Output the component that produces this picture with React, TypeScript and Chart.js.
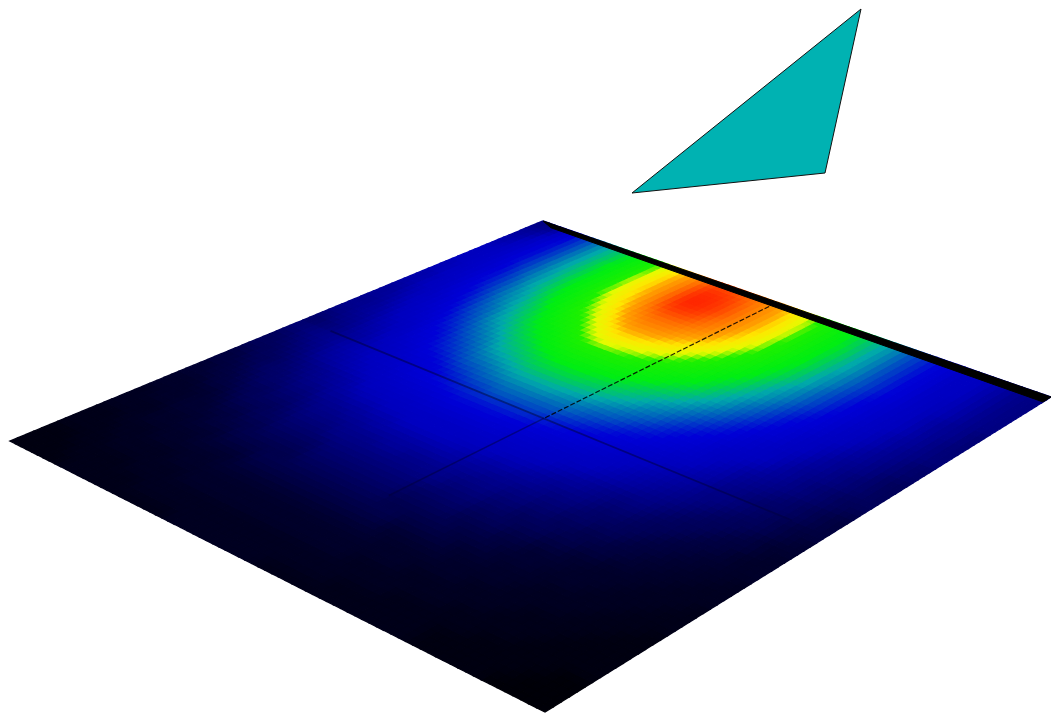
import React, { useEffect, useRef } from "react";
import { Chart, registerables } from "chart.js";

Chart.register(...registerables);

// Corners of the plate in chart units: top, right, bottom, left
const plateX = [543, 1051, 545, 10];
const plateY = [221, 397, 712, 441];
const triangleX = [861, 825, 632, 861];
const triangleY = [9, 173, 193, 9];

// Colour scale of the plate
const scaleStops = [0, 6, 12, 18, 26, 43, 53, 65, 69, 74, 78, 88, 97];
const scaleColors = [
  [0, 0, 0],
  [0, 0, 50],
  [0, 0, 130],
  [0, 0, 190],
  [0, 0, 215],
  [0, 170, 170],
  [0, 238, 20],
  [30, 240, 0],
  [230, 250, 0],
  [255, 230, 0],
  [255, 165, 0],
  [255, 110, 0],
  [255, 40, 0],
];

// Plate values, row by row from the thick edge to the far edge
const heat: number[][] = [
  [12,14,20,28,33,39,44,48,53,58,65,70,75,80,88,93,93,91,88,84,79,75,70,66,61,56,52,48,44,40,35,31,27,24,20,19,17,15,13,12],
  [14,16,22,28,33,39,44,48,53,59,65,71,76,82,90,96,96,94,90,85,81,76,71,67,62,57,52,48,44,40,35,31,27,24,20,19,17,15,13,12],
  [15,18,24,28,33,39,44,49,54,59,66,72,76,82,91,97,97,95,91,86,81,76,72,67,62,57,53,49,44,40,35,31,27,24,20,19,17,15,13,12],
  [16,19,24,28,33,39,44,49,53,59,66,72,76,82,91,97,97,95,91,86,81,76,72,67,62,57,52,49,44,40,35,31,27,24,20,19,17,15,13,12],
  [17,20,24,28,33,39,44,48,53,59,65,71,75,81,90,95,95,93,89,85,80,75,71,66,62,57,52,48,44,40,35,31,27,24,20,18,17,15,13,12],
  [18,20,24,28,33,38,43,48,53,58,65,70,74,79,87,91,91,90,87,83,78,74,70,66,61,56,52,48,43,39,35,31,27,24,20,18,17,15,13,12],
  [18,20,23,27,32,38,42,47,52,57,63,68,72,77,83,87,87,86,83,80,76,72,68,64,60,55,51,47,42,39,34,30,26,23,20,18,16,14,13,11],
  [18,20,22,26,31,36,42,46,51,55,61,66,70,74,79,83,83,82,79,76,73,70,66,62,58,53,50,46,42,37,33,29,25,22,20,18,16,14,13,11],
  [17,19,22,26,30,35,40,44,49,54,59,64,67,71,75,78,78,77,75,73,70,67,64,60,56,52,48,44,40,36,32,28,25,22,19,18,16,14,12,11],
  [17,19,21,25,29,34,39,42,47,51,56,61,64,68,71,74,74,73,71,70,67,64,61,57,53,50,46,42,39,35,31,27,24,21,19,17,15,14,12,11],
  [16,18,20,24,27,32,37,41,45,49,53,58,61,65,68,70,70,69,68,66,64,61,58,54,51,48,44,41,37,33,29,26,23,20,18,17,15,13,12,11],
  [16,18,19,23,26,30,35,38,43,47,51,54,57,61,64,66,66,65,64,62,60,57,54,52,49,45,42,38,35,31,27,25,22,19,18,16,14,13,11,10],
  [15,17,18,21,24,28,33,36,41,44,48,51,54,57,60,61,61,61,60,58,56,54,51,49,46,43,40,36,33,29,26,23,20,18,17,15,14,12,11,10],
  [14,16,18,20,23,26,30,34,38,41,45,48,50,53,55,57,57,56,55,54,52,50,48,46,43,40,37,34,30,27,24,22,19,18,16,14,13,12,10,9],
  [14,15,17,19,21,24,28,31,35,38,41,45,47,49,51,52,52,52,51,50,49,47,45,42,40,37,34,31,28,25,22,20,18,17,15,14,12,11,10,9],
  [13,14,16,18,20,22,26,28,32,35,38,42,44,46,48,49,49,49,48,47,46,44,42,39,37,34,31,28,26,23,21,19,18,16,14,13,12,11,10,9],
  [13,14,15,17,18,20,24,26,29,32,35,38,40,42,44,45,45,45,44,43,42,40,38,36,34,31,28,26,24,21,19,18,17,15,14,12,11,10,9,9],
  [12,13,14,16,17,19,22,24,27,29,32,35,36,38,40,41,41,41,40,39,38,36,35,33,30,28,26,24,22,20,18,17,15,14,13,12,11,10,9,8],
  [11,12,13,15,16,18,20,22,25,26,28,31,33,35,36,37,37,37,36,36,35,33,31,29,27,26,24,22,20,19,17,16,14,13,12,11,10,9,8,7],
  [10,11,12,14,15,17,18,20,22,24,25,27,29,31,32,34,34,33,33,32,30,29,27,26,25,23,21,20,18,17,16,15,13,12,11,10,10,9,8,7],
  [11,12,13,14,16,17,18,20,21,23,25,26,27,28,29,29,29,29,29,28,27,26,25,24,22,21,19,18,17,16,15,14,12,12,11,10,9,8,7,7],
  [10,11,12,13,15,16,17,18,19,21,22,23,24,25,26,26,26,26,25,25,24,23,22,21,20,19,18,17,16,15,14,13,12,11,10,9,9,8,7,6],
  [9,10,11,12,14,15,16,17,18,19,20,21,21,22,23,23,23,23,23,22,21,21,20,19,18,18,17,16,15,14,13,12,11,10,9,9,8,7,6,6],
  [9,9,10,11,12,13,14,15,16,18,18,19,19,20,20,20,20,20,20,20,19,19,18,18,17,16,15,14,13,12,12,11,10,9,9,8,7,7,6,5],
  [8,9,9,10,11,12,13,14,15,16,17,17,18,18,19,19,19,19,18,18,18,17,17,16,15,14,14,13,12,11,11,10,9,9,8,7,7,6,5,5],
  [7,8,9,10,10,11,12,12,14,14,15,15,16,16,17,17,17,17,17,16,16,15,15,14,14,13,12,12,11,10,10,9,9,8,7,7,6,6,5,5],
  [7,7,8,9,10,10,11,11,12,13,13,14,14,15,15,15,15,15,15,15,14,14,13,13,12,12,11,11,10,10,9,9,8,7,7,6,6,5,5,4],
  [6,7,7,8,9,9,10,10,11,12,12,12,13,13,13,14,14,13,13,13,13,12,12,12,11,11,10,10,9,9,8,8,7,7,6,6,5,5,4,4],
  [6,6,7,7,8,9,9,9,10,11,11,11,12,12,12,12,12,12,12,12,12,11,11,11,10,10,9,9,9,8,8,7,7,6,6,5,5,4,4,4],
  [5,5,6,6,7,8,8,9,9,10,10,10,10,11,11,11,11,11,11,11,10,10,10,10,9,9,9,8,8,7,7,6,6,5,5,5,4,4,4,3],
  [5,5,5,6,6,7,7,8,8,9,9,9,9,10,10,10,10,10,10,10,9,9,9,9,8,8,8,7,7,6,6,6,5,5,5,4,4,4,3,3],
  [4,5,5,6,6,6,7,7,8,8,8,8,8,9,9,9,9,9,9,9,8,8,8,8,8,7,7,7,6,6,6,5,5,5,4,4,4,3,3,3],
  [4,4,4,5,5,6,6,6,7,7,7,8,8,8,8,8,8,8,8,8,8,8,7,7,7,7,6,6,6,5,5,5,4,4,4,4,3,3,3,2],
  [4,4,4,5,5,5,5,6,6,6,6,7,7,7,7,7,7,7,7,7,7,7,6,6,6,6,6,5,5,5,5,4,4,4,4,3,3,3,2,2],
  [3,3,4,4,4,5,5,5,5,5,6,6,6,6,6,6,6,6,6,6,6,6,6,5,5,5,5,5,5,4,4,4,4,3,3,3,3,2,2,2],
  [3,3,3,4,4,4,4,4,5,5,5,5,5,5,5,5,5,5,5,5,5,5,5,5,5,5,4,4,4,4,4,4,3,3,3,3,2,2,2,2],
  [3,3,3,3,4,4,4,4,4,4,5,5,5,5,5,5,5,5,5,5,5,5,5,4,4,4,4,4,4,4,3,3,3,3,3,2,2,2,2,2],
  [2,2,3,3,3,3,3,4,4,4,4,4,4,4,4,4,4,4,4,4,4,4,4,4,4,4,4,3,3,3,3,3,3,2,2,2,2,2,1,1],
  [2,2,2,3,3,3,3,3,3,4,4,4,4,4,4,4,4,4,4,4,4,4,4,4,3,3,3,3,3,3,3,2,2,2,2,2,2,1,1,1],
  [2,2,2,2,3,3,3,3,3,3,3,3,3,4,4,4,4,4,4,4,3,3,3,3,3,3,3,3,3,3,3,2,2,2,2,2,1,1,1,1],
];

// Each cell is painted in shadeSteps x shadeSteps facets, as a smooth-shaded mesh would be
const shadeSteps = 2;

function colorFor(v: number): string {
  let i = 0;
  while (i < scaleStops.length - 2 && v > scaleStops[i + 1]) i++;
  const t = Math.min(1, Math.max(0, (v - scaleStops[i]) / (scaleStops[i + 1] - scaleStops[i])));
  const a = scaleColors[i];
  const b = scaleColors[i + 1];
  const c = a.map((q, k) => Math.round(q + (b[k] - q) * t));
  return `rgb(${c[0]},${c[1]},${c[2]})`;
}

function shadeAt(col: number, row: number): number {
  const rows = heat.length;
  const cols = heat[0].length;
  const cx = Math.min(cols - 1, Math.max(0, col));
  const cy = Math.min(rows - 1, Math.max(0, row));
  const x0 = Math.floor(cx), y0 = Math.floor(cy);
  const x1 = Math.min(cols - 1, x0 + 1), y1 = Math.min(rows - 1, y0 + 1);
  const fx = cx - x0, fy = cy - y0;
  const top = heat[y0][x0] * (1 - fx) + heat[y0][x1] * fx;
  const bot = heat[y1][x0] * (1 - fx) + heat[y1][x1] * fx;
  return top * (1 - fy) + bot * fy;
}

// Perspective map from plate position (u along the thick edge, v away from it) to chart units
function makePlateMap() {
  const [x0, x1, x2, x3] = plateX;
  const [y0, y1, y2, y3] = plateY;
  const dx1 = x1 - x2, dx2 = x3 - x2, sx = x0 - x1 + x2 - x3;
  const dy1 = y1 - y2, dy2 = y3 - y2, sy = y0 - y1 + y2 - y3;
  const det = dx1 * dy2 - dx2 * dy1;
  const g = (sx * dy2 - dx2 * sy) / det;
  const h = (dx1 * sy - sx * dy1) / det;
  const a = x1 - x0 + g * x1, b = x3 - x0 + h * x3;
  const d = y1 - y0 + g * y1, e = y3 - y0 + h * y3;
  return (u: number, v: number) => {
    const w = g * u + h * v + 1;
    return { x: (a * u + b * v + x0) / w, y: (d * u + e * v + y0) / w };
  };
}

export default function App() {
  const ref = useRef<HTMLCanvasElement | null>(null);
  useEffect(() => {
    document.body.style.margin = "0";
    document.body.style.background = "#fff";
    const at = makePlateMap();
    const rows = heat.length * shadeSteps;
    const cols = heat[0].length * shadeSteps;
    const base = { showLine: true, pointRadius: 0, tension: 0 };
    const datasets: any[] = [];
    // overlays first: Chart.js paints the first dataset last
    datasets.push({
      ...base,
      data: [at(0, 0), at(1, 0), at(1, 0.02), at(0.03, 0.012), at(0, 0)],
      fill: "shape",
      backgroundColor: "#000",
      borderColor: "#000",
      borderWidth: 1,
    });
    datasets.push({
      ...base,
      data: [at(0.5, 0.02), at(0.5, 0.5)],
      borderColor: "rgba(0,0,0,0.85)",
      borderWidth: 1.2,
      borderDash: [5, 2],
    });
    datasets.push({
      ...base,
      data: [at(0.5, 0.5), at(0.5, 0.78)],
      borderColor: "rgba(0,0,50,0.45)",
      borderWidth: 1.5,
    });
    datasets.push({
      ...base,
      data: [at(0.06, 0.5), at(0.94, 0.5)],
      borderColor: "rgba(0,0,60,0.5)",
      borderWidth: 1.8,
    });
    datasets.push({
      ...base,
      data: triangleX.map((x, i) => ({ x, y: triangleY[i] })),
      fill: "shape",
      backgroundColor: "rgb(0,178,178)",
      borderColor: "#111",
      borderWidth: 1,
    });
    for (let r = 0; r < rows; r++) {
      for (let c = 0; c < cols; c++) {
        const u0 = c / cols, u1 = (c + 1) / cols, v0 = r / rows, v1 = (r + 1) / rows;
        const col = colorFor(shadeAt((c + 0.5) / shadeSteps - 0.5, (r + 0.5) / shadeSteps - 0.5));
        datasets.push({
          ...base,
          data: [at(u0, v0), at(u1, v0), at(u1, v1), at(u0, v1), at(u0, v0)],
          fill: "shape",
          backgroundColor: col,
          borderColor: col,
          borderWidth: 1.4,
        });
      }
    }
    const chart = new Chart(ref.current as HTMLCanvasElement, {
      type: "scatter",
      data: { datasets },
      options: {
        animation: false,
        responsive: false,
        devicePixelRatio: 1,
        layout: { padding: 0 },
        plugins: { legend: { display: false }, tooltip: { enabled: false } },
        scales: {
          x: { type: "linear", min: 0, max: 1051, display: false },
          y: { type: "linear", min: 0, max: 713, reverse: true, display: false },
        },
      },
    } as any);
    return () => chart.destroy();
  }, []);
  return <canvas ref={ref} width={1051} height={713} style={{ display: "block" }} />;
}
